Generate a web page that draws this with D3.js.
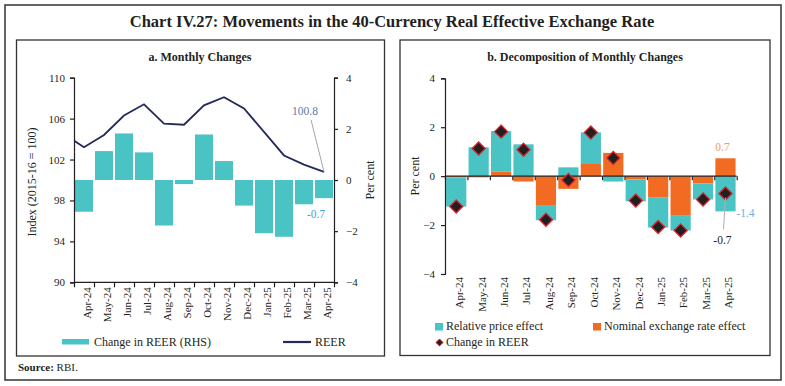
<!DOCTYPE html>
<html>
<head>
<meta charset="utf-8">
<script src="https://cdn.jsdelivr.net/npm/d3@7"></script>
<style>
  html, body { margin: 0; padding: 0; background: #fff; }
  svg { display: block; font-family: "Liberation Serif", "DejaVu Serif", serif; }
</style>
</head>
<body>
<svg id="chart" width="785" height="386"></svg>
<script>
// ---------------- DATA ----------------
const months = ["Apr-24","May-24","Jun-24","Jul-24","Aug-24","Sep-24","Oct-24","Nov-24","Dec-24","Jan-25","Feb-25","Mar-25","Apr-25"];
const reerPrevMonth = 104.5; // Mar-24 (line enters from the left edge)
const reer = [103.2, 104.4, 106.3, 107.4, 105.5, 105.4, 107.3, 108.1, 107.0, 104.7, 102.4, 101.5, 100.8];
const reerChange = [-1.24, 1.13, 1.82, 1.08, -1.78, -0.16, 1.78, 0.74, -1.0, -2.08, -2.22, -0.95, -0.71];
const nominalEffect = [-0.05, -0.05, 0.18, -0.22, -1.18, -0.52, 0.53, 0.95, -0.13, -0.88, -1.59, -0.30, 0.73];
const relPriceEffect = [-1.19, 1.18, 1.66, 1.30, -0.62, 0.36, 1.26, -0.22, -0.90, -1.22, -0.63, -0.65, -1.44];
const leftTicks = [90, 94, 98, 102, 106, 110];
const rightTicks = [-4, -2, 0, 2, 4];

const C = {
  teal: "#4ac3c5", orange: "#f26b22", navy: "#232a5c",
  text: "#231f20", frame: "#333", dFill: "#231f20", dStroke: "#e0242e"
};

const svg = d3.select("#chart");

// ---------------- FRAMES & TITLES ----------------
svg.append("rect").attr("x", 5).attr("y", 5).attr("width", 776).attr("height", 375)
  .attr("fill", "none").attr("stroke", C.frame).attr("stroke-width", 1.5);
svg.append("rect").attr("x", 16.5).attr("y", 40).attr("width", 368).attr("height", 316)
  .attr("fill", "none").attr("stroke", C.frame).attr("stroke-width", 1.3);
svg.append("rect").attr("x", 400).attr("y", 40).attr("width", 370).attr("height", 315.5)
  .attr("fill", "none").attr("stroke", C.frame).attr("stroke-width", 1.3);

svg.append("text").attr("x", 392).attr("y", 27).attr("text-anchor", "middle")
  .attr("font-size", 16.5).attr("font-weight", "bold").attr("fill", C.text)
  .text("Chart IV.27: Movements in the 40-Currency Real Effective Exchange Rate");
svg.append("text").attr("x", 200).attr("y", 61).attr("text-anchor", "middle")
  .attr("font-size", 12).attr("font-weight", "bold").attr("fill", C.text).text("a. Monthly Changes");
svg.append("text").attr("x", 585).attr("y", 61).attr("text-anchor", "middle")
  .attr("font-size", 12).attr("font-weight", "bold").attr("fill", C.text).text("b. Decomposition of Monthly Changes");

const src = svg.append("text").attr("x", 18).attr("y", 371).attr("font-size", 11).attr("fill", C.text);
src.append("tspan").attr("font-weight", "bold").text("Source:");
src.append("tspan").text(" RBI.");

function styleAxis(g) {
  g.select(".domain").attr("stroke", C.text).attr("stroke-width", 1.2);
  g.selectAll(".tick line").attr("stroke", C.text).attr("stroke-width", 1.2);
  g.selectAll(".tick text").attr("font-size", 11).attr("fill", C.text)
    .attr("font-family", "Liberation Serif, DejaVu Serif, serif");
}

// ---------------- PANEL A ----------------
const A = { x0: 74, x1: 334, y0: 77.7, y1: 282.3 };
const xA = d3.scaleBand().domain(months).range([A.x0, A.x1]).paddingInner(0.1).paddingOuter(0.05);
const xAidx = d3.scaleLinear().domain([0, months.length]).range([A.x0, A.x1]);
const yL = d3.scaleLinear().domain([90, 110]).range([A.y1, A.y0]);
const yR = d3.scaleLinear().domain([-4, 4]).range([A.y1, A.y0]);

// bars
svg.append("g").selectAll("rect").data(months).join("rect")
  .attr("x", d => xA(d))
  .attr("width", xA.bandwidth())
  .attr("y", (d, i) => yR(Math.max(0, reerChange[i])))
  .attr("height", (d, i) => Math.abs(yR(reerChange[i]) - yR(0)))
  .attr("fill", C.teal);

// line (clipped to plot area)
svg.append("clipPath").attr("id", "clipA").append("rect")
  .attr("x", A.x0).attr("y", A.y0 - 5).attr("width", A.x1 - A.x0).attr("height", A.y1 - A.y0 + 5);
const linePts = [[-1, reerPrevMonth]].concat(reer.map((v, i) => [i, v]));
const lineGen = d3.line()
  .x(d => xA(months[0]) + xA.bandwidth() / 2 + d[0] * xA.step())
  .y(d => yL(d[1]));
svg.append("path").datum(linePts).attr("clip-path", "url(#clipA)")
  .attr("d", lineGen).attr("fill", "none").attr("stroke", C.navy).attr("stroke-width", 1.8);

// axes
const gAL = svg.append("g").attr("transform", `translate(${A.x0},0)`)
  .call(d3.axisLeft(yL).tickValues(leftTicks).tickSize(4).tickPadding(5).tickFormat(d3.format("d")));
styleAxis(gAL);
const gAR = svg.append("g").attr("transform", `translate(${A.x1},0)`)
  .call(d3.axisRight(yR).tickValues(rightTicks).tickSize(4).tickPadding(8).tickFormat(d3.format("d")));
styleAxis(gAR);
const gAB = svg.append("g").attr("transform", `translate(0,${A.y1})`)
  .call(d3.axisBottom(xAidx).tickValues(d3.range(months.length + 1)).tickSize(5).tickFormat(""));
styleAxis(gAB);
gAB.select(".domain").attr("d", `M${A.x0},0H${A.x1}`);
const gABl = svg.append("g").attr("transform", `translate(3,${A.y1})`)
  .call(d3.axisBottom(xA).tickSize(0).tickPadding(0));
gABl.select(".domain").remove();
gABl.selectAll(".tick text").attr("font-size", 11).attr("fill", C.text)
  .attr("transform", "rotate(-90)").attr("text-anchor", "end")
  .attr("x", -5).attr("y", 0).attr("dy", "0.35em")
  .attr("font-family", "Liberation Serif, DejaVu Serif, serif");

// axis titles
svg.append("text").attr("transform", `translate(36,182) rotate(-90)`).attr("text-anchor", "middle")
  .attr("font-size", 12).attr("fill", C.text).text("Index (2015-16 = 100)");
svg.append("text").attr("transform", `translate(374,180) rotate(-90)`).attr("text-anchor", "middle")
  .attr("font-size", 12).attr("fill", C.text).text("Per cent");

// annotations
const lastI = months.length - 1;
const lastX = xA(months[lastI]) + xA.bandwidth() / 2;
svg.append("line").attr("x1", lastX - 13).attr("y1", yL(reer[lastI]) - 52)
  .attr("x2", lastX).attr("y2", yL(reer[lastI]))
  .attr("stroke", "#a6a6a6").attr("stroke-width", 1);
svg.append("text").attr("x", lastX - 19).attr("y", yL(reer[lastI]) - 57).attr("text-anchor", "middle")
  .attr("font-size", 11.5).attr("fill", "#5b7bab").text(reer[lastI].toFixed(1));
svg.append("text").attr("x", lastX - 8).attr("y", yR(reerChange[lastI]) + 20).attr("text-anchor", "middle")
  .attr("font-size", 11.5).attr("fill", "#3ea7e0").text(reerChange[lastI].toFixed(1));

// legend A
svg.append("rect").attr("x", 62).attr("y", 339).attr("width", 27).attr("height", 5.5).attr("fill", C.teal);
svg.append("text").attr("x", 94).attr("y", 346).attr("font-size", 12).attr("fill", C.text).text("Change in REER (RHS)");
svg.append("line").attr("x1", 283).attr("x2", 311).attr("y1", 342).attr("y2", 342)
  .attr("stroke", C.navy).attr("stroke-width", 2.2);
svg.append("text").attr("x", 315).attr("y", 346).attr("font-size", 12).attr("fill", C.text).text("REER");

// ---------------- PANEL B ----------------
const B = { x0: 445, x1: 736.7, y0: 78.3, y1: 274 };
const xB = d3.scaleBand().domain(months).range([B.x0, B.x1]).paddingInner(0.1).paddingOuter(0.05);
const xBidx = d3.scaleLinear().domain([0, months.length]).range([B.x0, B.x1]);
const yB = d3.scaleLinear().domain([-4, 4]).range([B.y1, B.y0]);

const table = months.map((m, i) => ({ month: m, nominal: nominalEffect[i], relPrice: relPriceEffect[i] }));
const stacked = d3.stack().keys(["nominal", "relPrice"]).offset(d3.stackOffsetDiverging)(table);
const colorOf = { nominal: C.orange, relPrice: C.teal };

svg.append("g").selectAll("g").data(stacked).join("g")
  .attr("fill", d => colorOf[d.key])
  .selectAll("rect").data(d => d).join("rect")
  .attr("x", d => xB(d.data.month))
  .attr("width", xB.bandwidth())
  .attr("y", d => yB(Math.max(d[0], d[1])))
  .attr("height", d => Math.abs(yB(d[0]) - yB(d[1])));

// axes B
const gBL = svg.append("g").attr("transform", `translate(${B.x0},0)`)
  .call(d3.axisLeft(yB).tickValues(rightTicks).tickSize(4).tickPadding(6).tickFormat(d3.format("d")));
styleAxis(gBL);
const gBZ = svg.append("g").attr("transform", `translate(0,${yB(0)})`)
  .call(d3.axisBottom(xBidx).tickValues(d3.range(months.length + 1)).tickSize(4).tickFormat(""));
styleAxis(gBZ);
gBZ.select(".domain").attr("d", `M${B.x0},0H${B.x1}`);
const gBl = svg.append("g").attr("transform", `translate(3,${B.y1})`)
  .call(d3.axisBottom(xB).tickSize(0).tickPadding(0));
gBl.select(".domain").remove();
gBl.selectAll(".tick text").attr("font-size", 11).attr("fill", C.text)
  .attr("transform", "rotate(-90)").attr("text-anchor", "end")
  .attr("x", -3).attr("y", 0).attr("dy", "0.35em")
  .attr("font-family", "Liberation Serif, DejaVu Serif, serif");

svg.append("text").attr("transform", `translate(419,176) rotate(-90)`).attr("text-anchor", "middle")
  .attr("font-size", 12).attr("fill", C.text).text("Per cent");

// diamonds
const diamond = d3.symbol().type(d3.symbolDiamond2).size(110);
svg.append("g").selectAll("path").data(months).join("path")
  .attr("transform", (d, i) => `translate(${xB(d) + xB.bandwidth() / 2},${yB(reerChange[i])})`)
  .attr("d", diamond)
  .attr("fill", C.dFill).attr("stroke", C.dStroke).attr("stroke-width", 1.3);

// annotations B
const bx = xB(months[lastI]) + xB.bandwidth() / 2;
svg.append("text").attr("x", bx - 3).attr("y", yB(nominalEffect[lastI]) - 7).attr("text-anchor", "middle")
  .attr("font-size", 11.5).attr("fill", "#f19a63").text(nominalEffect[lastI].toFixed(1));
svg.append("text").attr("x", bx + 20).attr("y", yB(relPriceEffect[lastI]) + 6).attr("text-anchor", "middle")
  .attr("font-size", 11.5).attr("fill", "#64b5e5").text(relPriceEffect[lastI].toFixed(1));
svg.append("line").attr("x1", bx - 2).attr("y1", yB(reerChange[lastI]) + 36)
  .attr("x2", bx).attr("y2", yB(reerChange[lastI]) + 4)
  .attr("stroke", "#b0b0b0").attr("stroke-width", 1);
svg.append("text").attr("x", bx - 3).attr("y", yB(reerChange[lastI]) + 50).attr("text-anchor", "middle")
  .attr("font-size", 11.5).attr("fill", C.text).text(reerChange[lastI].toFixed(1));

// legend B
svg.append("rect").attr("x", 435).attr("y", 323).attr("width", 8).attr("height", 7.5).attr("fill", C.teal);
svg.append("text").attr("x", 446).attr("y", 330).attr("font-size", 12).attr("fill", C.text).text("Relative price effect");
svg.append("rect").attr("x", 593).attr("y", 323).attr("width", 8).attr("height", 7.5).attr("fill", C.orange);
svg.append("text").attr("x", 604).attr("y", 330).attr("font-size", 12).attr("fill", C.text).text("Nominal exchange rate effect");
svg.append("path").attr("transform", "translate(439.5,342.5)")
  .attr("d", d3.symbol().type(d3.symbolDiamond2).size(32))
  .attr("fill", C.dFill).attr("stroke", C.dStroke).attr("stroke-width", 1);
svg.append("text").attr("x", 446).attr("y", 346).attr("font-size", 12).attr("fill", C.text).text("Change in REER");
</script>
</body>
</html>
